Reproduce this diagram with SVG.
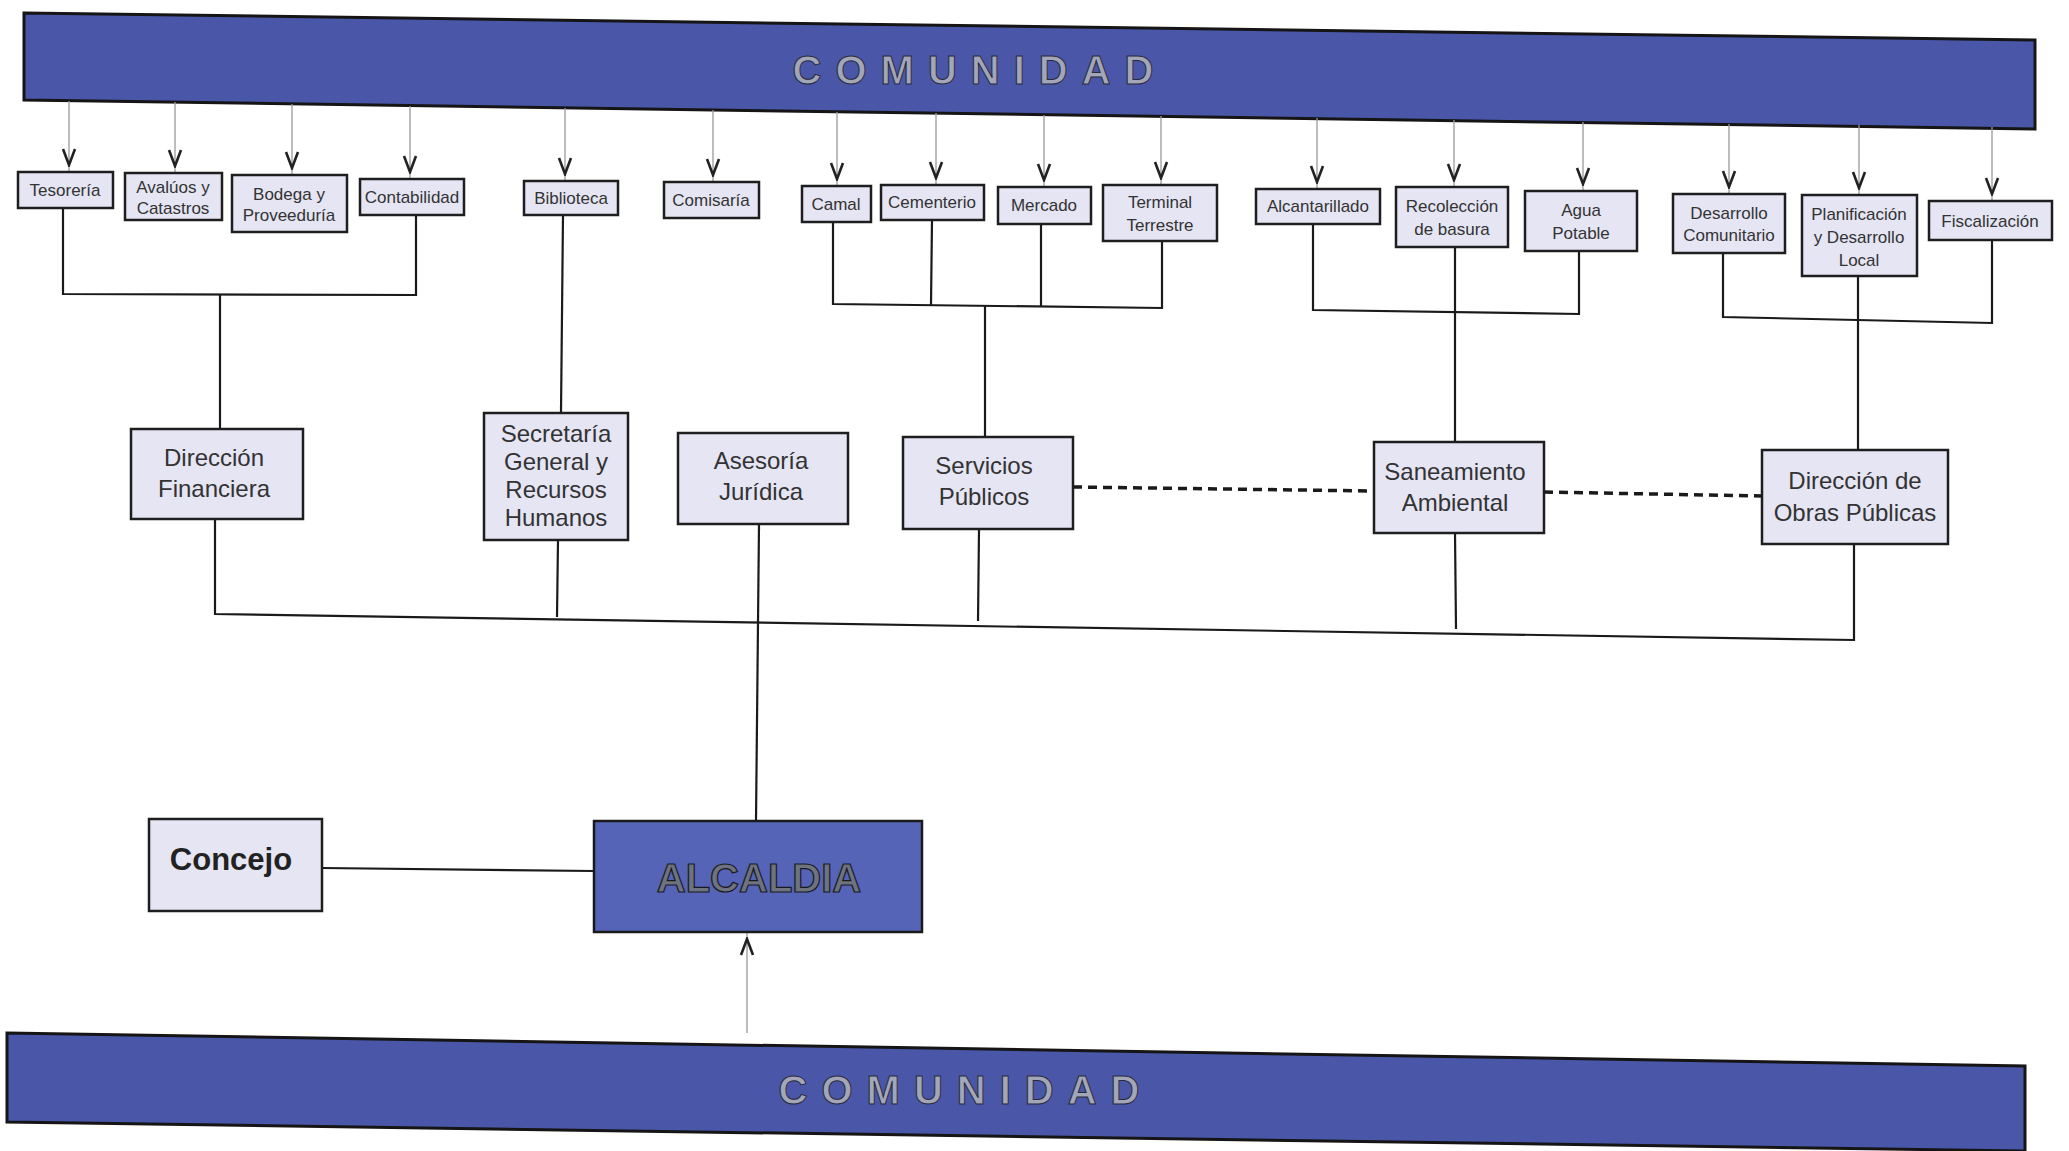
<svg xmlns="http://www.w3.org/2000/svg" width="2069" height="1151" viewBox="0 0 2069 1151">
<style>
.banner{fill:#4a57a8;stroke:#151515;stroke-width:3}
.btxt{font-family:"Liberation Sans",Arial,sans-serif;font-size:40px;font-weight:bold;fill:#a2a6b8;stroke:#2a2a3a;stroke-width:1;letter-spacing:14px;text-anchor:middle}
.box{fill:#e5e5f4;stroke:#1e1e1e;stroke-width:2.5}
.st{font-family:"Liberation Sans",Arial,sans-serif;font-size:17px;fill:#333;text-anchor:middle}
.mt{font-family:"Liberation Sans",Arial,sans-serif;font-size:24px;fill:#333;text-anchor:middle}
.feed{fill:none;stroke:#9a9a9a;stroke-width:1.3}
.con{fill:none;stroke:#1a1a1a;stroke-width:2.2}
.dash{fill:none;stroke:#1a1a1a;stroke-width:3.5;stroke-dasharray:9 6}
.alc{fill:#5564b6;stroke:#1a1a1a;stroke-width:2.5}
</style>
<defs>
<marker id="v" viewBox="-19 -9 21 18" markerWidth="21" markerHeight="18" refX="0" refY="0" orient="auto" markerUnits="userSpaceOnUse">
<path d="M-16,-6 L0,0 L-16,6" fill="none" stroke="#222" stroke-width="2.6"/>
</marker>
</defs>
<rect width="2069" height="1151" fill="#ffffff"/>

<g id="banner-top">
<polygon class="banner" points="24,13 2035,40 2035,129 24,100"/>
<text class="btxt" x="980" y="84">COMUNIDAD</text>
</g>
<g id="banner-bottom">
<polygon class="banner" points="7,1033 2025,1066 2025,1151 7,1122"/>
<text class="btxt" x="966" y="1104">COMUNIDAD</text>
</g>

<g id="connectors">
<polyline class="feed" points="69,101 69,165 69,172" marker-mid="url(#v)"/>
<polyline class="feed" points="175,102 175,166 175,173" marker-mid="url(#v)"/>
<polyline class="feed" points="292,104 292,168 292,175" marker-mid="url(#v)"/>
<polyline class="feed" points="410,106 410,172 410,179" marker-mid="url(#v)"/>
<polyline class="feed" points="565,108 565,174 565,181" marker-mid="url(#v)"/>
<polyline class="feed" points="713,110 713,175 713,182" marker-mid="url(#v)"/>
<polyline class="feed" points="837,112 837,179 837,186" marker-mid="url(#v)"/>
<polyline class="feed" points="936,113 936,178 936,185" marker-mid="url(#v)"/>
<polyline class="feed" points="1044,115 1044,180 1044,187" marker-mid="url(#v)"/>
<polyline class="feed" points="1161,116 1161,178 1161,185" marker-mid="url(#v)"/>
<polyline class="feed" points="1317,118 1317,182 1317,189" marker-mid="url(#v)"/>
<polyline class="feed" points="1454,120 1454,180 1454,187" marker-mid="url(#v)"/>
<polyline class="feed" points="1583,122 1583,184 1583,191" marker-mid="url(#v)"/>
<polyline class="feed" points="1729,124 1729,187 1729,194" marker-mid="url(#v)"/>
<polyline class="feed" points="1859,125 1859,188 1859,195" marker-mid="url(#v)"/>
<polyline class="feed" points="1992,127 1992,194 1992,201" marker-mid="url(#v)"/>
<polyline class="con" points="63,208 63,294 416,295 416,215"/>
<line class="con" x1="220" y1="295" x2="220" y2="429"/>
<line class="con" x1="563" y1="215" x2="561" y2="413"/>
<polyline class="con" points="833,222 833,304 1162,308 1162,241"/>
<line class="con" x1="932" y1="220" x2="931" y2="305"/>
<line class="con" x1="1041" y1="224" x2="1041" y2="306"/>
<line class="con" x1="985" y1="306" x2="985" y2="437"/>
<polyline class="con" points="1313,224 1313,310 1579,314 1579,251"/>
<line class="con" x1="1455" y1="247" x2="1455" y2="442"/>
<polyline class="con" points="1723,253 1723,317 1992,323 1992,240"/>
<line class="con" x1="1858" y1="276" x2="1858" y2="450"/>
<line class="dash" x1="1073" y1="487" x2="1374" y2="491"/>
<line class="dash" x1="1544" y1="492" x2="1762" y2="496"/>
<polyline class="con" points="215,519 215,614 1854,640 1854,544"/>
<line class="con" x1="558" y1="540" x2="557" y2="617"/>
<line class="con" x1="979" y1="529" x2="978" y2="621"/>
<line class="con" x1="1455" y1="533" x2="1456" y2="629"/>
<line class="con" x1="759" y1="524" x2="756" y2="821"/>
<line class="con" x1="322" y1="868" x2="594" y2="871"/>
<polyline class="feed" points="747,1033 747,939 747,933" marker-mid="url(#v)"/>
</g>

<g id="n-tesoreria"><rect class="box" x="18" y="172" width="95" height="36"/><text class="st" x="65" y="196">Tesorería</text></g>
<g id="n-avaluos"><rect class="box" x="125" y="173" width="97" height="47"/><text class="st" x="173" y="193">Avalúos y</text><text class="st" x="173" y="214">Catastros</text></g>
<g id="n-bodega"><rect class="box" x="232" y="175" width="115" height="57"/><text class="st" x="289" y="200">Bodega y</text><text class="st" x="289" y="221">Proveeduría</text></g>
<g id="n-contabilidad"><rect class="box" x="360" y="179" width="104" height="36"/><text class="st" x="412" y="203" font-size="16">Contabilidad</text></g>
<g id="n-biblioteca"><rect class="box" x="524" y="181" width="94" height="34"/><text class="st" x="571" y="204">Biblioteca</text></g>
<g id="n-comisaria"><rect class="box" x="664" y="182" width="95" height="36"/><text class="st" x="711" y="206">Comisaría</text></g>
<g id="n-camal"><rect class="box" x="802" y="186" width="69" height="36"/><text class="st" x="836" y="210">Camal</text></g>
<g id="n-cementerio"><rect class="box" x="881" y="185" width="103" height="35"/><text class="st" x="932" y="208">Cementerio</text></g>
<g id="n-mercado"><rect class="box" x="998" y="187" width="93" height="37"/><text class="st" x="1044" y="211">Mercado</text></g>
<g id="n-terminal"><rect class="box" x="1103" y="185" width="114" height="56"/><text class="st" x="1160" y="208">Terminal</text><text class="st" x="1160" y="231">Terrestre</text></g>
<g id="n-alcantarillado"><rect class="box" x="1256" y="189" width="124" height="35"/><text class="st" x="1318" y="212">Alcantarillado</text></g>
<g id="n-recoleccion"><rect class="box" x="1396" y="187" width="112" height="60"/><text class="st" x="1452" y="212">Recolección</text><text class="st" x="1452" y="235">de basura</text></g>
<g id="n-agua"><rect class="box" x="1525" y="191" width="112" height="60"/><text class="st" x="1581" y="216">Agua</text><text class="st" x="1581" y="239">Potable</text></g>
<g id="n-desarrollo"><rect class="box" x="1673" y="194" width="112" height="59"/><text class="st" x="1729" y="219">Desarrollo</text><text class="st" x="1729" y="241">Comunitario</text></g>
<g id="n-planificacion"><rect class="box" x="1802" y="195" width="115" height="81"/><text class="st" x="1859" y="220">Planificación</text><text class="st" x="1859" y="243">y Desarrollo</text><text class="st" x="1859" y="266">Local</text></g>
<g id="n-fiscalizacion"><rect class="box" x="1929" y="201" width="123" height="39"/><text class="st" x="1990" y="227">Fiscalización</text></g>

<g id="n-dfinanciera"><rect class="box" x="131" y="429" width="172" height="90"/><text class="mt" x="214" y="466">Dirección</text><text class="mt" x="214" y="497">Financiera</text></g>
<g id="n-secretaria"><rect class="box" x="484" y="413" width="144" height="127"/><text class="mt" x="556" y="442">Secretaría</text><text class="mt" x="556" y="470">General y</text><text class="mt" x="556" y="498">Recursos</text><text class="mt" x="556" y="526">Humanos</text></g>
<g id="n-asesoria"><rect class="box" x="678" y="433" width="170" height="91"/><text class="mt" x="761" y="469">Asesoría</text><text class="mt" x="761" y="500">Jurídica</text></g>
<g id="n-servicios"><rect class="box" x="903" y="437" width="170" height="92"/><text class="mt" x="984" y="474">Servicios</text><text class="mt" x="984" y="505">Públicos</text></g>
<g id="n-saneamiento"><rect class="box" x="1374" y="442" width="170" height="91"/><text class="mt" x="1455" y="480">Saneamiento</text><text class="mt" x="1455" y="511">Ambiental</text></g>
<g id="n-obras"><rect class="box" x="1762" y="450" width="186" height="94"/><text class="mt" x="1855" y="489">Dirección de</text><text class="mt" x="1855" y="521">Obras Públicas</text></g>

<g id="n-concejo"><rect class="box" x="149" y="819" width="173" height="92"/><text x="231" y="870" font-family="Liberation Sans, Arial, sans-serif" font-size="31" font-weight="bold" fill="#222" text-anchor="middle">Concejo</text></g>
<g id="n-alcaldia"><rect class="alc" x="594" y="821" width="328" height="111"/><text x="759" y="892" font-family="Liberation Sans, Arial, sans-serif" font-size="40" font-weight="bold" fill="#6e7380" stroke="#1a1a1e" stroke-width="1.2" text-anchor="middle">ALCALDIA</text></g>
</svg>
